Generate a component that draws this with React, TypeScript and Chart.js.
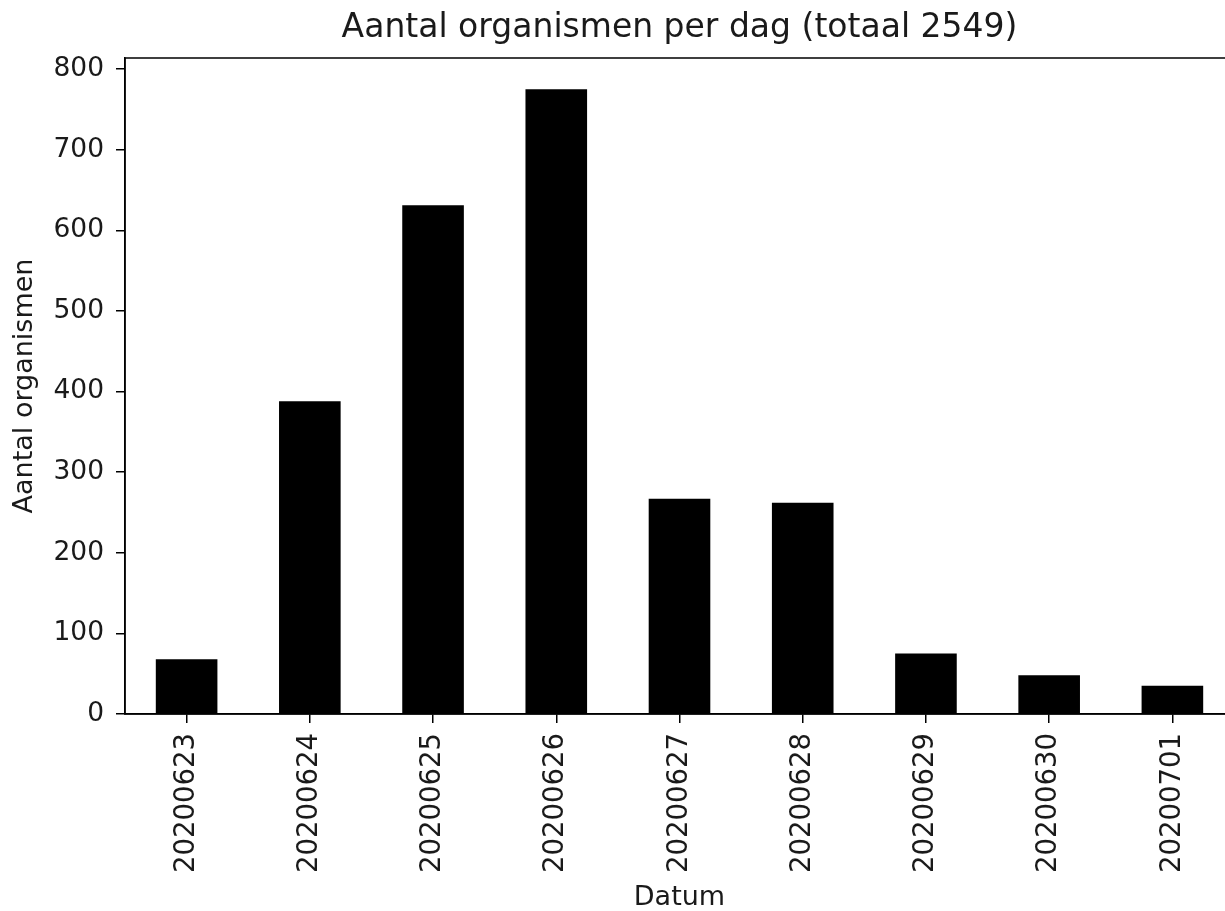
import React, { useEffect, useRef } from "react";
import { Chart, registerables } from "chart.js";

Chart.register(...registerables);

const categories = [
  "20200623",
  "20200624",
  "20200625",
  "20200626",
  "20200627",
  "20200628",
  "20200629",
  "20200630",
  "20200701",
];
const counts = [68, 388, 631, 775, 267, 262, 75, 48, 35];
const titleText = "Aantal organismen per dag (totaal 2549)";
const yLabel = "Aantal organismen";
const xLabel = "Datum";
const yMin = 0;
const yMax = 813.75;
const yStep = 100;

const FONT = "'DejaVu Sans', sans-serif";
const TEXT = "#1a1a1a";

const framePlugin = {
  id: "frame",
  afterDraw(chart: any) {
    const { ctx, chartArea } = chart;
    ctx.save();
    ctx.strokeStyle = "#000";
    ctx.lineWidth = 1.5;
    ctx.strokeRect(chartArea.left, chartArea.top, chartArea.right - chartArea.left, chartArea.bottom - chartArea.top);
    ctx.restore();
  },
};

export default function App() {
  const ref = useRef<HTMLCanvasElement | null>(null);
  useEffect(() => {
    if (!ref.current) return;
    const chart = new Chart(ref.current, {
      type: "bar",
      data: {
        labels: categories,
        datasets: [
          {
            data: counts,
            backgroundColor: "#000",
            borderWidth: 0,
            categoryPercentage: 1,
            barPercentage: 0.5,
          },
        ],
      },
      options: {
        animation: false,
        responsive: false,
        devicePixelRatio: 1,
        layout: { padding: 0 },
        plugins: {
          legend: { display: false },
          tooltip: { enabled: false },
          title: {
            display: true,
            text: titleText,
            fullSize: false,
            color: TEXT,
            font: { family: FONT, size: 33, weight: "normal", lineHeight: 1.2 },
            padding: { top: 9, bottom: 9.4 },
          },
        },
        scales: {
          x: {
            type: "category",
            offset: true,
            grid: {
              offset: false,
              drawOnChartArea: false,
              drawTicks: true,
              tickLength: 9,
              color: "#000",
              lineWidth: 1.5,
            },
            border: { display: true, color: "#000", width: 1.5 },
            ticks: {
              color: TEXT,
              font: { family: FONT, size: 27.5 },
              minRotation: 90,
              maxRotation: 90,
              padding: 10,
              autoSkip: false,
            },
            title: {
              display: true,
              text: xLabel,
              color: TEXT,
              font: { family: FONT, size: 27, lineHeight: 1 },
              padding: 0,
            },
            afterFit(scale: any) {
              scale.height = 197;
            },
          },
          y: {
            min: yMin,
            max: yMax,
            grid: {
              drawOnChartArea: false,
              drawTicks: true,
              tickLength: 9,
              color: "#000",
              lineWidth: 1.5,
            },
            border: { display: true, color: "#000", width: 1.5 },
            ticks: {
              stepSize: yStep,
              includeBounds: false,
              color: TEXT,
              font: { family: FONT, size: 26.5 },
              padding: 12,
            },
            title: {
              display: true,
              text: yLabel,
              color: TEXT,
              font: { family: FONT, size: 27, lineHeight: 1.2 },
              padding: { top: 9, bottom: 0 },
            },
            afterFit(scale: any) {
              scale.width = 125;
            },
          },
        },
      },
      plugins: [framePlugin],
    });
    return () => chart.destroy();
  }, []);

  return (
    <div
      style={{
        position: "fixed",
        left: 0,
        top: 0,
        width: 1225,
        height: 911,
        overflow: "hidden",
        background: "#fff",
      }}
    >
      <canvas ref={ref} width={1234} height={911} style={{ display: "block" }} />
    </div>
  );
}
